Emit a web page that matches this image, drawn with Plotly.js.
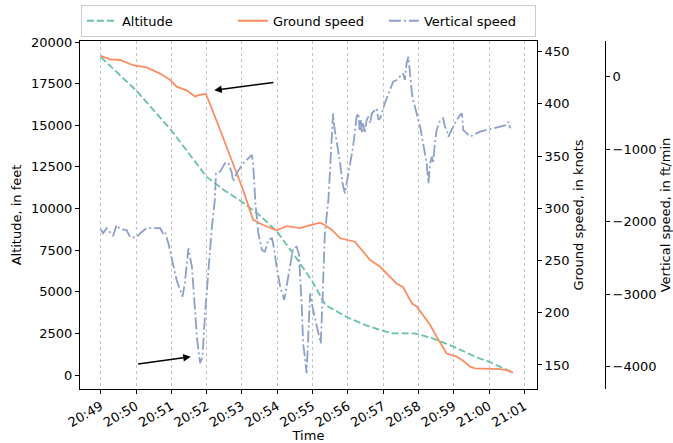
<!DOCTYPE html>
<html><head><meta charset="utf-8">
<script src="https://cdn.plot.ly/plotly-3.0.1.min.js"></script>
<style>html,body{margin:0;padding:0;background:#fff}#chart{width:673px;height:443px}</style>
</head><body><div id="chart"></div>
<script>
const DAY = '2019-03-10 ';

const altTime = ['20:49:00','20:50:00','20:51:00','20:51:32','20:52:00','20:52:30','20:53:00','20:53:30','20:54:00','20:54:30','20:55:00','20:55:22','20:56:00','20:56:30','20:57:00','20:57:17','20:57:51','20:58:00','20:58:24','20:59:00','20:59:39','21:00:00','21:00:41'];
const altitude = [19100,17100,14700,13200,11900,11100,10400,9600,8600,7150,5600,4200,3450,3000,2650,2500,2500,2450,2200,1700,1060,800,140];

const gsTime = ['20:49:00','20:49:16','20:49:33','20:49:55','20:50:18','20:50:41','20:50:58','20:51:09','20:51:26','20:51:40','20:51:48','20:51:59','20:52:23','20:52:40','20:53:02','20:53:19','20:53:36','20:53:59','20:54:16','20:54:39','20:54:50','20:55:13','20:55:21','20:55:33','20:55:47','20:56:12','20:56:38','20:56:55','20:57:23','20:57:34','20:57:49','20:57:57','20:58:20','20:58:31','20:58:48','20:59:05','20:59:16','20:59:28','20:59:36','21:00:19','21:00:30','21:00:41'];
const groundSpeed = [446,442.7,442,437,435,429,423,416.5,413,407,408.5,409.5,375,349.5,317.6,289,284,279,283,281,283,286.3,284,279.3,271.3,268,250.5,244,228,224.4,209,206,188.3,177,161,158,154,148.4,146.8,146,145,142.6];

const vsTime = ['20:49:00','20:49:04','20:49:10','20:49:21','20:49:27','20:49:33','20:49:44','20:49:50','20:50:01','20:50:07','20:50:18','20:50:29','20:50:41','20:50:46','20:50:49','20:50:55','20:51:03','20:51:09','20:51:15','20:51:19','20:51:23','20:51:26','20:51:29','20:51:35','20:51:40','20:51:44','20:51:49','20:51:53','20:51:57','20:52:03','20:52:09','20:52:14','20:52:16','20:52:23','20:52:31','20:52:37','20:52:43','20:52:45','20:52:51','20:53:02','20:53:17','20:53:19','20:53:23','20:53:28','20:53:34','20:53:39','20:53:45','20:53:51','20:53:53','20:53:59','20:54:05','20:54:12','20:54:16','20:54:22','20:54:27','20:54:33','20:54:37','20:54:42','20:54:44','20:54:47','20:54:50','20:54:51','20:54:53','20:54:56','20:55:01','20:55:07','20:55:14','20:55:17','20:55:21','20:55:27','20:55:30','20:55:35','20:55:37','20:55:41','20:55:47','20:55:51','20:55:55','20:55:58','20:56:04','20:56:09','20:56:15','20:56:18','20:56:20','20:56:22','20:56:24','20:56:26','20:56:29','20:56:32','20:56:35','20:56:38','20:56:41','20:56:46','20:56:49','20:56:52','20:56:55','20:57:03','20:57:12','20:57:17','20:57:23','20:57:29','20:57:34','20:57:37','20:57:40','20:57:43','20:57:46','20:57:49','20:57:51','20:57:57','20:58:03','20:58:08','20:58:14','20:58:17','20:58:20','20:58:23','20:58:25','20:58:28','20:58:31','20:58:37','20:58:42','20:58:45','20:58:48','20:58:51','20:58:54','20:58:59','20:59:05','20:59:11','20:59:14','20:59:16','20:59:22','20:59:28','20:59:33','20:59:45','20:59:56','21:00:07','21:00:19','21:00:30','21:00:33','21:00:36'];
const verticalSpeed = [-2105,-2160,-2090,-2197,-2045,-2100,-2115,-2215,-2215,-2160,-2090,-2090,-2090,-2160,-2138,-2298,-2574,-2804,-2942,-3034,-2850,-2574,-2367,-2621,-3218,-3632,-3953,-3862,-3310,-2666,-2069,-1700,-1333,-1310,-1195,-1186,-1333,-1448,-1333,-1195,-1080,-1195,-1746,-2160,-2390,-2414,-2252,-2229,-2298,-2621,-2897,-3080,-2897,-2574,-2367,-2345,-2450,-3218,-3677,-3862,-4091,-3908,-3448,-2988,-3218,-3448,-3677,-3080,-2160,-1700,-1195,-505,-690,-873,-1195,-1471,-1609,-1471,-1195,-966,-552,-505,-735,-597,-781,-643,-781,-597,-552,-643,-505,-459,-436,-597,-574,-367,-183,-69,-46,0,47,-46,185,276,0,-229,-321,-505,-690,-919,-1195,-1471,-1195,-1103,-1195,-919,-735,-597,-574,-690,-735,-828,-781,-690,-597,-528,-505,-735,-781,-828,-804,-758,-735,-712,-690,-666,-621,-712];

// arrow annotations: [head time, head value, tail time, tail value]
const arrowGround = ['20:52:13', 413, '20:53:56', 420.7];
const arrowVertical = ['20:51:33', -3862, '20:50:01', -3967];

const toX = a => a.map(t => DAY + t);
const FONT = 'DejaVu Sans, sans-serif';

const traces = [
  {type:'scatter', mode:'lines', name:'Altitude', x:toX(altTime), y:altitude, yaxis:'y',
   line:{color:'#66c2a5', width:1.8, dash:'7px,3px'}},
  {type:'scatter', mode:'lines', name:'Ground speed', x:toX(gsTime), y:groundSpeed, yaxis:'y2',
   line:{color:'#fc8d62', width:1.8}},
  {type:'scatter', mode:'lines', name:'Vertical speed', x:toX(vsTime), y:verticalSpeed, yaxis:'y3',
   line:{color:'#8da0cb', width:1.8, dash:'12px,3px,2px,3px'}}
];

const axCommon = {showgrid:false, zeroline:false, showline:true, linecolor:'#000', linewidth:1,
  ticks:'outside', ticklen:4, tickcolor:'#000', tickfont:{size:13}, tickformat:'d'};

function arrow(a, yref){
  return {xref:'x', yref:yref, axref:'x', ayref:yref, x:DAY+a[0], y:a[1], ax:DAY+a[2], ay:a[3],
    text:'', showarrow:true, arrowhead:2, arrowsize:1, arrowwidth:1.5, arrowcolor:'#000'};
}

const layout = {
  width:673, height:443, margin:{l:80, r:68, t:41, b:54, autoexpand:false},
  paper_bgcolor:'#fff', plot_bgcolor:'#fff',
  font:{family:FONT, size:13, color:'#000'},
  showlegend:true,
  legend:{orientation:'h', x:0.435, xanchor:'center', y:1.058, yanchor:'middle',
    entrywidth:106, entrywidthmode:'pixels',
    bordercolor:'#cccccc', borderwidth:1, bgcolor:'#fff', font:{size:13}},
  xaxis:Object.assign({}, axCommon, {type:'date', domain:[0,0.8705], tickformat:'%H:%M',
    range:[DAY+'20:48:24.8', DAY+'21:01:21.6'], tick0:DAY+'20:49:00', dtick:60000,
    tickangle:-30, showgrid:true, gridcolor:'#c4c4c4', griddash:'dot', gridwidth:1,
    mirror:true, title:{text:'Time', font:{size:13}}}),
  yaxis:Object.assign({}, axCommon, {range:[-841,20060], tick0:0, dtick:2500, mirror:true,
    title:{text:'Altitude, in feet', font:{size:13}, standoff:6}}),
  yaxis2:Object.assign({}, axCommon, {overlaying:'y', side:'right', anchor:'x', range:[127,460.2],
    tick0:0, dtick:50, title:{text:'Ground speed, in knots', font:{size:13}}}),
  yaxis3:Object.assign({}, axCommon, {overlaying:'y', side:'right', anchor:'free', position:1,
    range:[-4308,492], tick0:0, dtick:1000, title:{text:'Vertical speed, in ft/min', font:{size:13}}}),
  annotations:[arrow(arrowGround,'y2'), arrow(arrowVertical,'y3')]
};

Plotly.newPlot('chart', traces, layout, {displayModeBar:false, staticPlot:true});
</script>
</body></html>
